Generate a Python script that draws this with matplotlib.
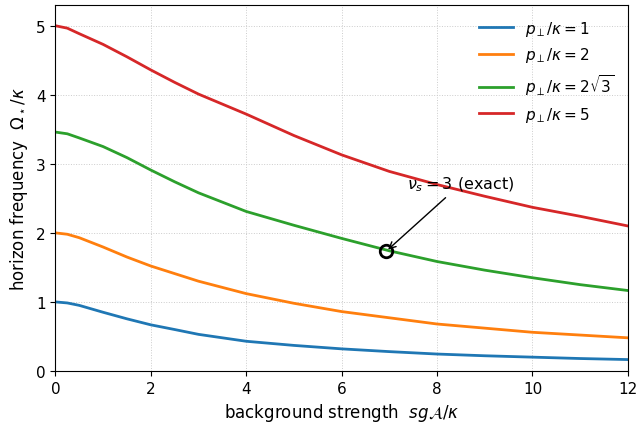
import matplotlib
matplotlib.use("Agg")
import matplotlib.pyplot as plt

# background strength sgA/kappa
x_vals = [0, 0.25, 0.5, 1, 1.5, 2, 2.5, 3, 4, 5, 6, 7, 8, 9, 10, 11, 12]

# horizon frequency Omega_star/kappa
omega_p1 = [1.0, 0.985, 0.95, 0.85, 0.755, 0.668, 0.60, 0.53, 0.43, 0.37, 0.32, 0.28, 0.245, 0.22, 0.20, 0.18, 0.165]
omega_p2 = [2.0, 1.98, 1.93, 1.795, 1.65, 1.52, 1.41, 1.30, 1.12, 0.98, 0.86, 0.77, 0.68, 0.62, 0.56, 0.52, 0.48]
omega_p2r3 = [3.46, 3.435, 3.375, 3.25, 3.09, 2.91, 2.74, 2.58, 2.31, 2.11, 1.92, 1.74, 1.585, 1.46, 1.35, 1.25, 1.165]
omega_p5 = [5.0, 4.965, 4.885, 4.73, 4.55, 4.36, 4.18, 4.01, 3.72, 3.41, 3.13, 2.89, 2.70, 2.53, 2.37, 2.24, 2.10]

labels = [
    r"$p_\perp/\kappa = 1$",
    r"$p_\perp/\kappa = 2$",
    r"$p_\perp/\kappa = 2\sqrt{3}$",
    r"$p_\perp/\kappa = 5$",
]

# exact point nu_s = 3
exact_x = 6.93
exact_y = 1.732

fig, ax = plt.subplots(figsize=(6.44, 4.31), dpi=100)
fig.subplots_adjust(left=0.086, right=0.975, bottom=0.137, top=0.986)

for series, lab, col in zip([omega_p1, omega_p2, omega_p2r3, omega_p5], labels,
                            ["C0", "C1", "C2", "C3"]):
    ax.plot(x_vals, series, color=col, lw=2, label=lab)

ax.plot([exact_x], [exact_y], "o", mfc="none", mec="black", mew=2, ms=9, zorder=5)
ax.annotate(
    r"$\nu_s = 3$ (exact)",
    xy=(exact_x, exact_y),
    xytext=(8.5, 2.71),
    ha="center",
    va="center",
    fontsize=11.5,
    arrowprops=dict(arrowstyle="->", color="black", lw=1),
)

ax.set_xlim(0, 12)
ax.set_ylim(0, 5.3)
ax.set_xlabel(r"background strength  $sg\mathcal{A}/\kappa$", fontsize=12)
ax.set_ylabel(r"horizon frequency  $\Omega_\star/\kappa$", fontsize=12)
ax.tick_params(labelsize=11)
ax.grid(True, ls=":", lw=0.7, color="#cccccc")
ax.legend(loc="upper right", frameon=False, fontsize=11, handlelength=2.2)

fig.savefig("out.png", dpi=100)
